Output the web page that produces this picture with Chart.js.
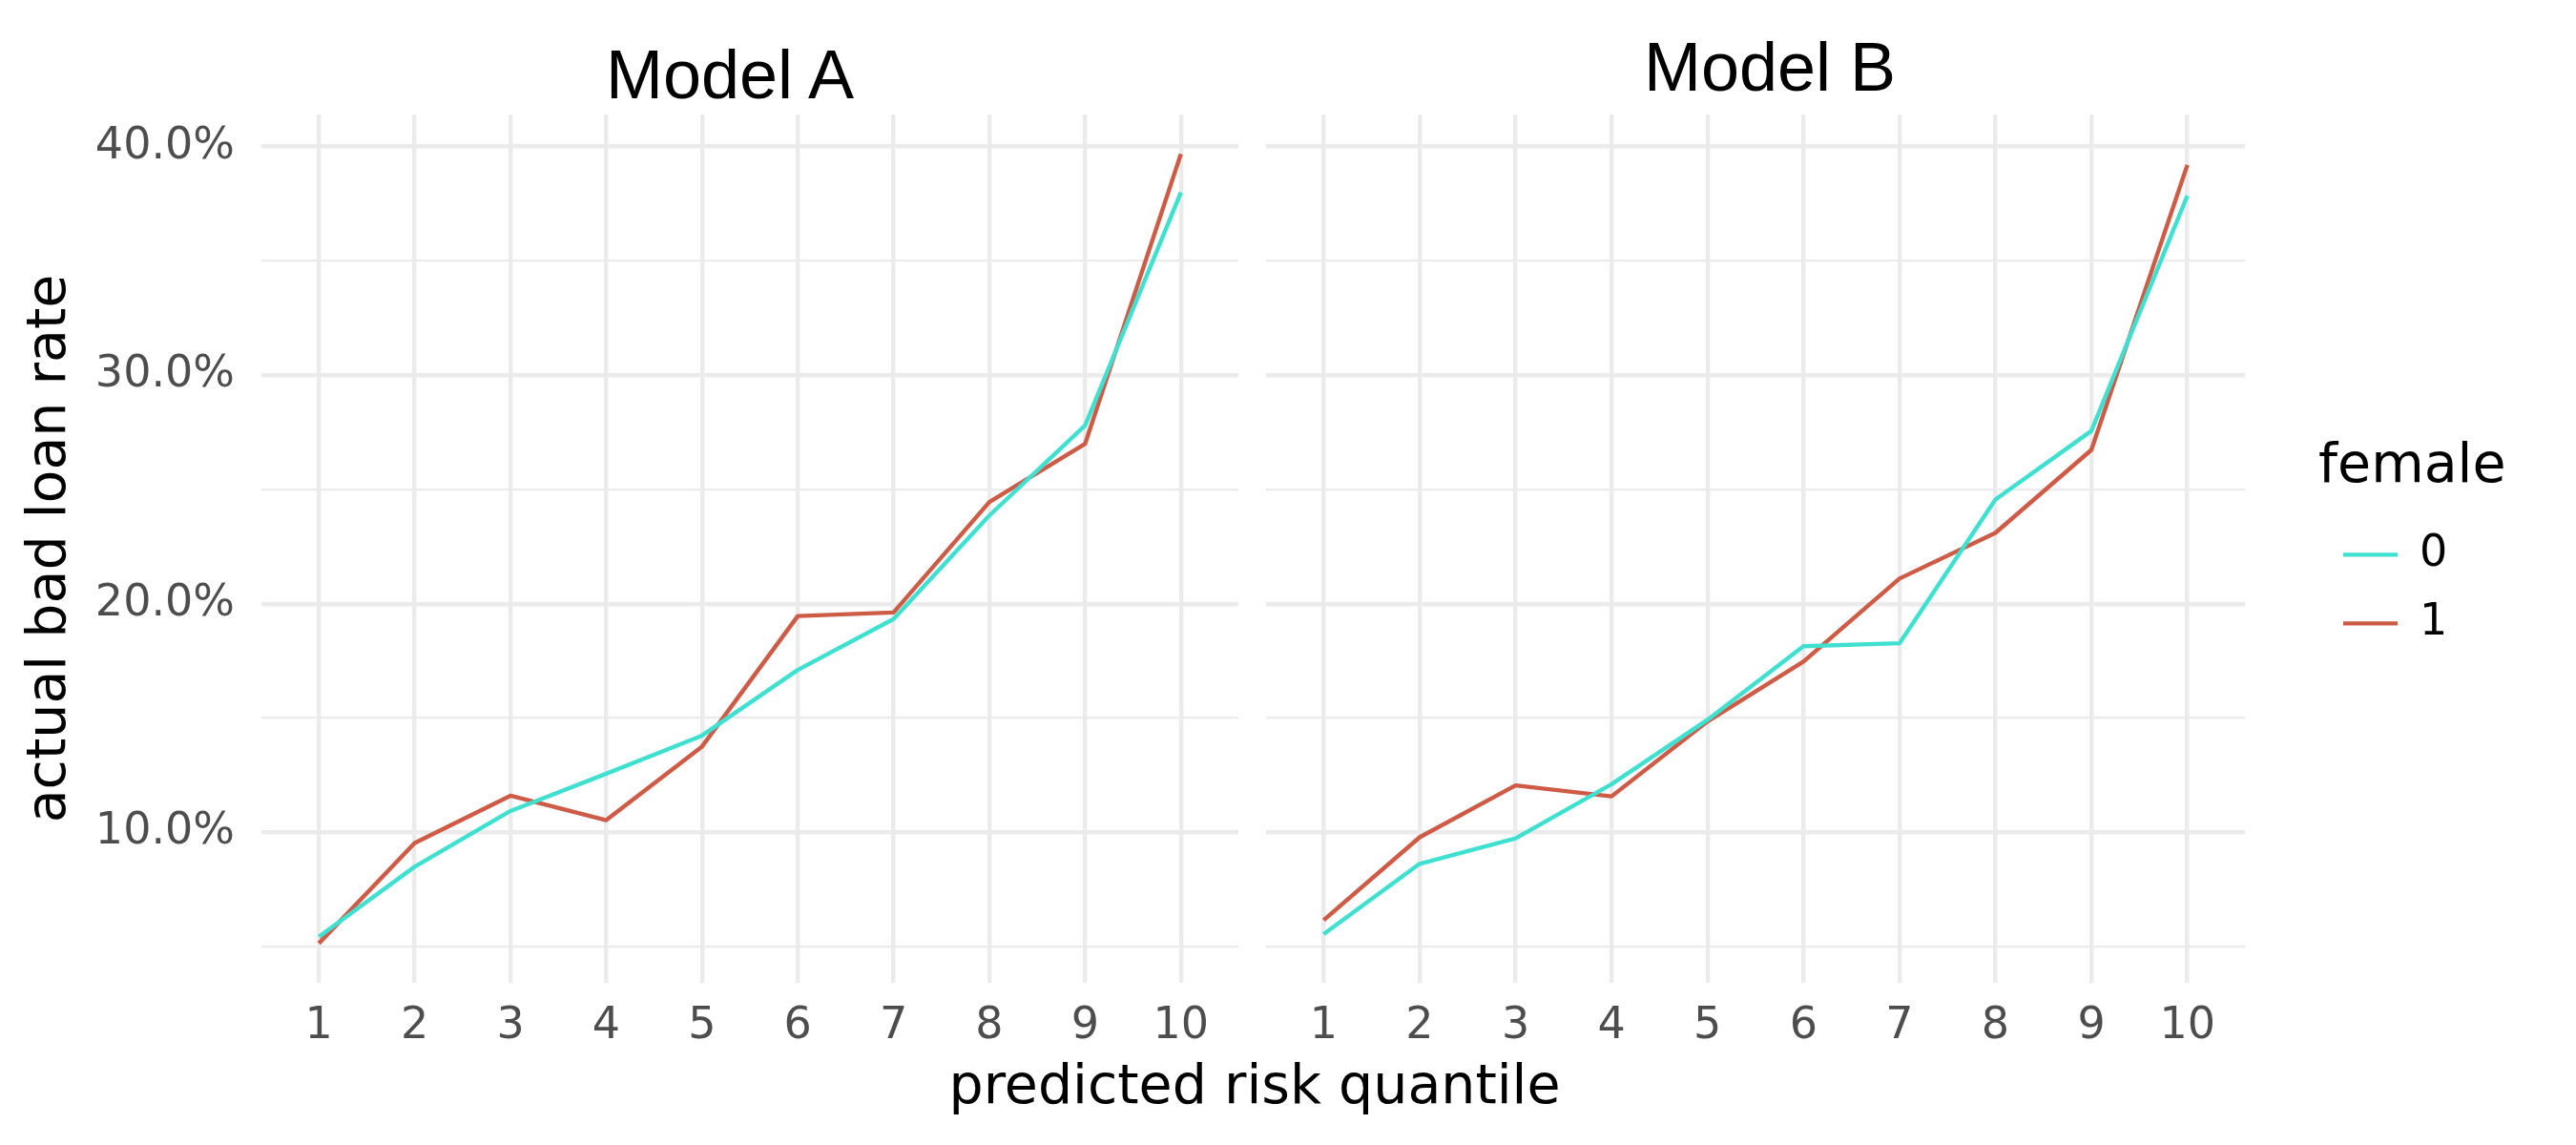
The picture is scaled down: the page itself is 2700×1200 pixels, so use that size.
<!DOCTYPE html>
<html>
<head>
<meta charset="utf-8">
<script src="https://cdn.jsdelivr.net/npm/chart.js@4/dist/chart.umd.min.js"></script>
<style>
  html, body { margin: 0; padding: 0; background: #fff; }
  #page { position: relative; width: 2700px; height: 1200px; overflow: hidden; background: #fff; }
  canvas { position: absolute; top: 0; }
  .txt { position: absolute; white-space: nowrap; text-align: center; color: #000; }
  .panel-title { font-family: 'Liberation Sans', Arial, sans-serif; font-size: 72px; line-height: 72px; width: 600px; }
  .axis-title { font-family: 'DejaVu Sans', sans-serif; font-size: 57px; line-height: 57px; width: 1000px; }
</style>
</head>
<body>
<div id="page">
  <canvas id="chartA" width="1310" height="1200" style="left:0;width:1310px;height:1200px"></canvas>
  <canvas id="chartB" width="1390" height="1200" style="left:1310px;width:1390px;height:1200px"></canvas>
  <div class="txt panel-title" style="left:465px;top:42px">Model A</div>
  <div class="txt panel-title" style="left:1555px;top:34px">Model B</div>
  <div class="txt axis-title" style="left:815px;top:1108px">predicted risk quantile</div>
</div>
<script>
// risk quantiles (x) and actual bad loan rate in % (y)
const quantiles = [1, 2, 3, 4, 5, 6, 7, 8, 9, 10];
const groups = ['0', '1'];
const modelA_female0 = [5.43, 8.49, 10.93, 12.56, 14.23, 17.10, 19.33, 23.86, 27.80, 38.00];
const modelA_female1 = [5.14, 9.53, 11.60, 10.53, 13.75, 19.46, 19.62, 24.45, 27.00, 39.68];
const modelB_female0 = [5.54, 8.62, 9.73, 12.10, 14.92, 18.14, 18.27, 24.56, 27.56, 37.85];
const modelB_female1 = [6.15, 9.78, 12.05, 11.57, 14.85, 17.47, 21.10, 23.10, 26.73, 39.20];
const yBreaks = [10, 20, 30, 40];

const colors = ['#40E0D0', '#CD5B45'];
const gridColor = '#EBEBEB';

// shared y range, padded like ggplot (5% each side)
const all = [].concat(modelA_female0, modelA_female1, modelB_female0, modelB_female1);
const lo = Math.min(...all), hi = Math.max(...all);
const yMin = lo - (hi - lo) * 0.05;
const yMax = hi + (hi - lo) * 0.05;

Chart.defaults.font.family = "'DejaVu Sans', sans-serif";
Chart.defaults.animation = false;

const tickFont = { size: 46 };

function datasets(series) {
  return series.map((s, i) => ({
    label: groups[i],
    data: s,
    borderColor: colors[i],
    backgroundColor: colors[i],
    borderWidth: 4.4,
    borderJoinStyle: 'round',
    pointRadius: 0,
    tension: 0,
  }));
}

function xScale() {
  return {
    type: 'linear',
    min: 0.4,
    max: 10.6,
    border: { display: false },
    grid: { color: gridColor, lineWidth: 4.4, drawTicks: false },
    ticks: { stepSize: 1, includeBounds: false, padding: 18, color: '#4D4D4D', font: tickFont },
    afterFit(scale) { scale.height = 170; },
  };
}

function yScale(showLabels, width) {
  return {
    type: 'linear',
    min: yMin,
    max: yMax,
    border: { display: false },
    grid: {
      color: gridColor,
      drawTicks: false,
      lineWidth: (ctx) => (yBreaks.includes(ctx.tick.value) ? 4.4 : 2.2),
    },
    ticks: {
      display: showLabels,
      stepSize: 5,
      includeBounds: false,
      padding: 28,
      color: '#4D4D4D',
      font: tickFont,
      callback: (v) => (yBreaks.includes(v) ? v.toFixed(1) + '%' : ''),
    },
    title: {
      display: showLabels,
      text: 'actual bad loan rate',
      color: '#000',
      font: { size: 57 },
      padding: { top: 19 },
    },
    afterFit(scale) { scale.width = width; },
  };
}

// the legend box only sizes itself to its items, so the title gets clipped;
// give it a fixed width wide enough for "female"
const legendWidth = {
  id: 'legendWidth',
  beforeLayout(chart) {
    const legend = chart.legend;
    if (legend && !legend._fixedWidth) {
      const fit = legend.fit;
      legend.fit = function () { fit.call(this); this.width = 220; };
      legend._fixedWidth = true;
    }
  },
};

new Chart(document.getElementById('chartA'), {
  type: 'line',
  data: { labels: quantiles, datasets: datasets([modelA_female0, modelA_female1]) },
  options: {
    responsive: false,
    devicePixelRatio: 1,
    layout: { padding: { top: 120, right: 12, bottom: 0, left: 0 } },
    scales: { x: xScale(), y: yScale(true, 274) },
    plugins: { legend: { display: false }, tooltip: { enabled: false } },
  },
});

new Chart(document.getElementById('chartB'), {
  type: 'line',
  data: { labels: quantiles, datasets: datasets([modelB_female0, modelB_female1]) },
  plugins: [legendWidth],
  options: {
    responsive: false,
    devicePixelRatio: 1,
    layout: { padding: { top: 120, right: 50, bottom: 0, left: 0 } },
    scales: {
      x: xScale(),
      y: yScale(false, 17),
      // empty spacer between the panel and the legend
      gap: {
        type: 'linear',
        position: 'right',
        border: { display: false },
        grid: { display: false },
        ticks: { display: false },
        afterFit(scale) { scale.width = 77; },
      },
    },
    plugins: {
      tooltip: { enabled: false },
      legend: {
        position: 'right',
        align: 'start',
        title: {
          display: true,
          text: 'female',
          position: 'start',
          color: '#000',
          font: { size: 57 },
          padding: { top: 342, bottom: 2 },
        },
        labels: {
          usePointStyle: true,
          pointStyle: 'line',
          pointStyleWidth: 57,
          padding: 26,
          color: '#000',
          font: { size: 46 },
        },
      },
    },
  },
});
</script>
</body>
</html>
